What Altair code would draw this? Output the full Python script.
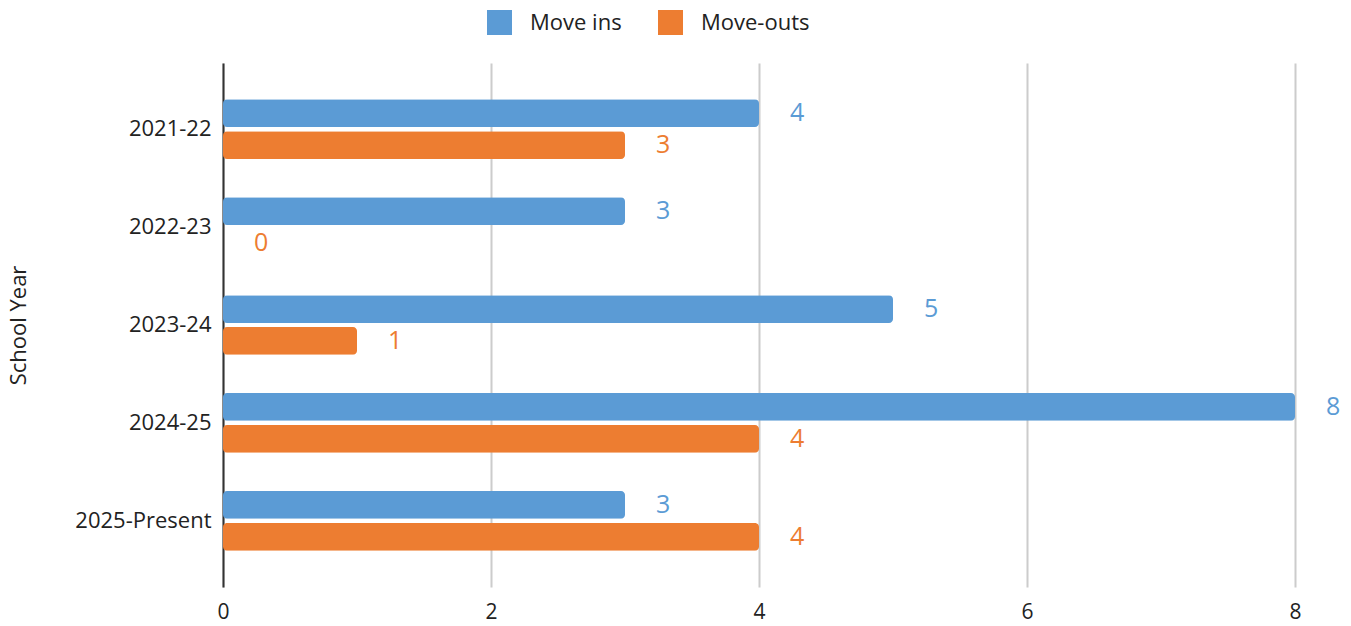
import altair as alt
import pandas as pd

years = ["2021-22", "2022-23", "2023-24", "2024-25", "2025-Present"]
move_ins = [4, 3, 5, 8, 3]
move_outs = [3, 0, 1, 4, 4]
series = ["Move ins", "Move-outs"]
colors = ["#5B9BD5", "#ED7D31"]

rows = []
for y, a, b in zip(years, move_ins, move_outs):
    rows.append({"year": y, "series": series[0], "value": a})
    rows.append({"year": y, "series": series[1], "value": b})
df = pd.DataFrame(rows)

FONT = "Open Sans"

y_enc = alt.Y("year:N", sort=years,
              scale=alt.Scale(paddingInner=0.39, paddingOuter=0.37),
              axis=alt.Axis(title="School Year", titleAngle=270, titleFontSize=22,
                            titleFont=FONT, titleFontWeight="normal", titleColor="#222",
                            titleX=-205, titleY=262, titleAlign="center", titleBaseline="middle",
                            labelFontSize=22, labelFont=FONT, labelColor="#222",
                            labelPadding=12, ticks=False, domainColor="#333",
                            domainWidth=2, grid=False))
yoff = alt.YOffset("series:N", sort=series, scale=alt.Scale(paddingInner=0.13))
x_enc = alt.X("value:Q", scale=alt.Scale(domain=[0, 8], nice=False),
              axis=alt.Axis(title=None, values=[0, 2, 4, 6, 8], format="d",
                            labelFontSize=21, labelFont=FONT, labelColor="#222",
                            labelPadding=14, labelFlush=False, ticks=False, domain=False,
                            gridColor="#cccccc", gridWidth=2))
color = alt.Color("series:N", sort=series,
                  scale=alt.Scale(domain=series, range=colors),
                  legend=alt.Legend(title=None, orient="none", direction="horizontal",
                                    legendX=264, legendY=-53,
                                    symbolType="square", symbolSize=625,
                                    symbolStrokeWidth=0, symbolOpacity=1,
                                    labelFontSize=22, labelFont=FONT, labelColor="#222",
                                    labelOffset=18, columnPadding=36))

base = alt.Chart(df)
bars = base.mark_bar(cornerRadius=4).encode(y=y_enc, yOffset=yoff, x=x_enc, color=color)
labels = base.mark_text(align="left", baseline="middle", dx=31, fontSize=25, font=FONT).encode(
    y=alt.Y("year:N", sort=years), yOffset=alt.YOffset("series:N", sort=series),
    x="value:Q", text="value:Q",
    color=alt.Color("series:N", sort=series, scale=alt.Scale(domain=series, range=colors), legend=None))

chart = (bars + labels).properties(
    width=1072, height=524,
    background="white",
    autosize=alt.AutoSizeParams(type="none"),
    padding={"left": 223, "top": 63, "right": 56, "bottom": 39},
).configure_view(strokeWidth=0, stroke="transparent")

chart.save("out.html", embed_options={"renderer": "svg", "actions": False})
